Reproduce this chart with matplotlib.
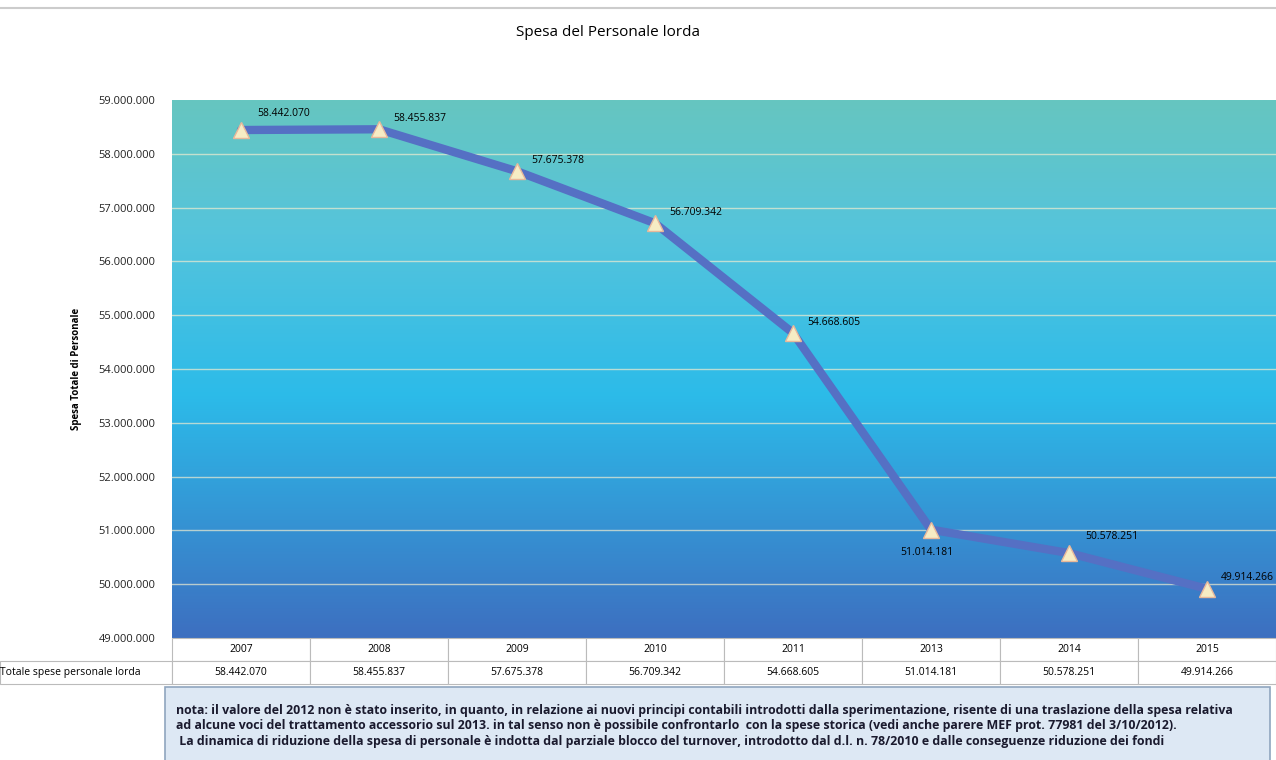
import numpy as np
import matplotlib
matplotlib.use("Agg")
import matplotlib.pyplot as plt
from matplotlib.colors import LinearSegmentedColormap
from matplotlib.patches import FancyBboxPatch

plt.rcParams['font.family'] = ['Open Sans', 'DejaVu Sans']

anni = ['2007', '2008', '2009', '2010', '2011', '2013', '2014', '2015']
spesa = [58442070, 58455837, 57675378, 56709342, 54668605, 51014181, 50578251, 49914266]
# dove sta l'etichetta di ogni punto
posizioni = ['above', 'right', 'right', 'right', 'right', 'below', 'above', 'right']
riga_tabella = 'Totale spese personale lorda'
nota = ("nota: il valore del 2012 non è stato inserito, in quanto, in relazione ai nuovi principi contabili "
        "introdotti dalla sperimentazione, risente di una traslazione della spesa relativa\n"
        "ad alcune voci del trattamento accessorio sul 2013. in tal senso non è possibile confrontarlo  "
        "con la spese storica (vedi anche parere MEF prot. 77981 del 3/10/2012).\n"
        " La dinamica di riduzione della spesa di personale è indotta dal parziale blocco del turnover, "
        "introdotto dal d.l. n. 78/2010 e dalle conseguenze riduzione dei fondi")


def fmt(v):
    return f"{v:,}".replace(",", ".")


W, H = 1276, 760
fig = plt.figure(figsize=(W / 100, H / 100), dpi=100)
ax = fig.add_axes([172 / W, (H - 638) / H, 1104 / W, 538 / H])

x = np.arange(len(anni))
ax.set_xlim(-0.5, len(anni) - 0.5)
ax.set_ylim(49000000, 59000000)

# sfondo sfumato
cmap = LinearSegmentedColormap.from_list('sf', [(0.0, '#3d6fc0'), (0.45, '#2cbbe9'),
                                               (0.75, '#55c4dc'), (1.0, '#66c6c0')])
grad = np.linspace(0, 1, 256).reshape(-1, 1)
ax.imshow(grad, aspect='auto', cmap=cmap, origin='lower',
          extent=[-0.5, len(anni) - 0.5, 49000000, 59000000], zorder=0)

ax.set_yticks(np.arange(49000000, 59000001, 1000000))
ax.set_yticklabels([fmt(v) for v in range(49000000, 59000001, 1000000)], fontsize=8, color='#222222')
for yv in range(50000000, 59000000, 1000000):
    ax.axhline(yv, color='#f0ecd0', lw=1.0, alpha=0.7, zorder=1)
ax.tick_params(axis='y', length=0, pad=12)
ax.set_xticks([])
for s in ax.spines.values():
    s.set_visible(False)

ax.set_ylabel('Spesa Totale di Personale', fontsize=7, fontweight='bold', labelpad=12)

ax.plot(x, spesa, color='#5570c4', lw=6, zorder=3, solid_capstyle='round')
ax.plot(x, spesa, linestyle='none', marker='^', ms=12, mfc='#f6ecc4', mec='#e8b89a', mew=1, zorder=4)

for xi, v, p in zip(x, spesa, posizioni):
    if p == 'above':
        ax.annotate(fmt(v), (xi, v), xytext=(12, 10), textcoords='offset points', fontsize=7.5)
    elif p == 'below':
        ax.annotate(fmt(v), (xi, v), xytext=(-22, -18), textcoords='offset points', fontsize=7.5)
    else:
        ax.annotate(fmt(v), (xi, v), xytext=(10, 6), textcoords='offset points', fontsize=7.5)

# tabella dati
celle = [[''] + anni, [riga_tabella] + [fmt(v) for v in spesa]]
tab = ax.table(cellText=celle, cellLoc='center',
               bbox=[-172 / 1104, -46 / 538, 1276 / 1104, 46 / 538])
tab.auto_set_font_size(False)
tab.set_fontsize(7.5)
larghezze = [172] + [138] * len(anni)
for (r, c), cella in tab.get_celld().items():
    cella.set_width(larghezze[c] / 1276)
    cella.set_edgecolor('#bbbbbb')
    cella.set_linewidth(0.8)
    if r == 0 and c == 0:
        cella.visible_edges = ''
    if c == 0 and r == 1:
        cella.set_text_props(ha='left')
        cella.PAD = 0.0

fig.text(608 / W, 1 - 32 / H, 'Spesa del Personale lorda', ha='center', va='center', fontsize=11)
fig.add_artist(plt.Line2D([0, 1], [1 - 8 / H, 1 - 8 / H], color='#cccccc', lw=1.5))

box = FancyBboxPatch((165 / W, -0.02), 1105 / W, 88 / H, boxstyle='square,pad=0',
                     transform=fig.transFigure, fc='#dde8f4', ec='#8fa5bf', lw=1.2)
fig.add_artist(box)
fig.text(176 / W, 1 - 704 / H, nota, ha='left', va='top', fontsize=8.9, fontweight='bold',
         linespacing=1.25, color='#1a1a2e')

fig.savefig('out.png', dpi=100)
